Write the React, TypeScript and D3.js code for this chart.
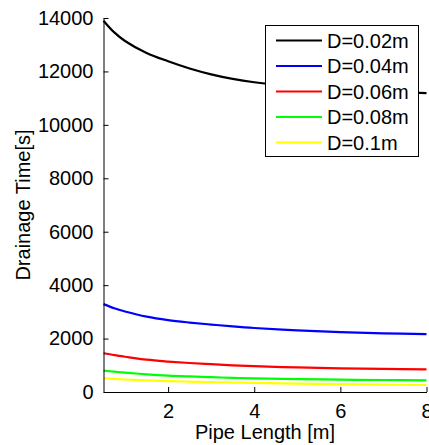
import React, { useRef, useEffect } from "react";
import * as d3 from "d3";

// pipe length samples [m]
const lengths = [0.5, 0.75, 1, 1.5, 2, 2.5, 3, 3.5, 4, 5, 6, 7, 8];

// drainage time [s] for each pipe diameter
const d002 = [13900, 13460, 13140, 12690, 12380, 12110, 11890, 11720, 11595, 11420, 11320, 11250, 11190];
const d004 = [3290, 3135, 3015, 2820, 2690, 2600, 2525, 2455, 2395, 2305, 2240, 2195, 2165];
const d006 = [1450, 1380, 1320, 1210, 1140, 1085, 1040, 1000, 965, 920, 888, 866, 850];
const d008 = [800, 760, 725, 662, 614, 582, 555, 530, 512, 485, 463, 449, 438];
const d010 = [515, 490, 468, 434, 410, 388, 370, 354, 340, 315, 295, 278, 262];

const seriesNames = ["D=0.02m", "D=0.04m", "D=0.06m", "D=0.08m", "D=0.1m"];
const seriesColors = ["#000000", "#0000ff", "#ff0000", "#00ff00", "#ffff00"];
const seriesValues = [d002, d004, d006, d008, d010];

const xTicks = [2, 4, 6, 8];
const yTicks = [0, 2000, 4000, 6000, 8000, 10000, 12000, 14000];

function DrainageChart() {
  const svgRef = useRef<SVGSVGElement>(null);

  useEffect(() => {
    const svg = d3.select(svgRef.current);
    svg.selectAll("*").remove();

    const left = 103.5, right = 426.5, top = 18, bottom = 392;
    const x = d3.scaleLinear().domain([0.5, 8]).range([left, right]);
    const y = d3.scaleLinear().domain([0, 14000]).range([bottom, top]);
    const font = "Arial, 'Liberation Sans', sans-serif";

    // curves
    const line = d3
      .line<number>()
      .x((_, i) => x(lengths[i]))
      .y((d) => y(d))
      .curve(d3.curveCatmullRom);

    seriesValues.forEach((vals, i) => {
      svg
        .append("path")
        .attr("d", line(vals))
        .attr("fill", "none")
        .attr("stroke", seriesColors[i])
        .attr("stroke-width", 2.2);
    });

    // axes, ticks pointing inward
    const yAxis = d3.axisLeft(y).tickValues(yTicks).tickFormat(d3.format("d")).tickSizeInner(-5).tickSizeOuter(0).tickPadding(10);
    const gy = svg.append("g").attr("transform", `translate(${left},0)`).call(yAxis);
    const xAxis = d3.axisBottom(x).tickValues(xTicks).tickFormat(d3.format("d")).tickSizeInner(-5).tickSizeOuter(0).tickPadding(12);
    const gx = svg.append("g").attr("transform", `translate(0,${bottom})`).call(xAxis);

    [gx, gy].forEach((g) => {
      g.selectAll("text").style("font-family", font).style("font-size", "20px").attr("fill", "#000");
      g.selectAll("line").attr("stroke", "#000");
      g.select(".domain").attr("stroke", "#000");
    });

    // axis labels
    svg
      .append("text")
      .attr("x", (left + right) / 2)
      .attr("y", 439)
      .attr("text-anchor", "middle")
      .style("font-family", font)
      .style("font-size", "20px")
      .text("Pipe Length [m]");

    svg
      .append("text")
      .attr("transform", `translate(30,${(top + bottom) / 2}) rotate(-90)`)
      .attr("text-anchor", "middle")
      .style("font-family", font)
      .style("font-size", "20px")
      .text("Drainage Time[s]");

    // legend
    const legend = svg.append("g");
    legend
      .append("rect")
      .attr("x", 265.5)
      .attr("y", 25.5)
      .attr("width", 153)
      .attr("height", 131)
      .attr("fill", "#fff")
      .attr("stroke", "#000");

    seriesNames.forEach((name, i) => {
      const cy = 40.5 + i * 25.5;
      legend
        .append("line")
        .attr("x1", 276)
        .attr("x2", 322)
        .attr("y1", cy)
        .attr("y2", cy)
        .attr("stroke", seriesColors[i])
        .attr("stroke-width", 2.2);
      legend
        .append("text")
        .attr("x", 327)
        .attr("y", cy)
        .attr("dy", "0.36em")
        .style("font-family", font)
        .style("font-size", "20px")
        .text(name);
    });
  }, []);

  return <svg ref={svgRef} width={429} height={445} style={{ display: "block" }}></svg>;
}

export default function App() {
  return (
    <div style={{ position: "absolute", left: 0, top: 0, background: "#fff" }}>
      <DrainageChart />
    </div>
  );
}
